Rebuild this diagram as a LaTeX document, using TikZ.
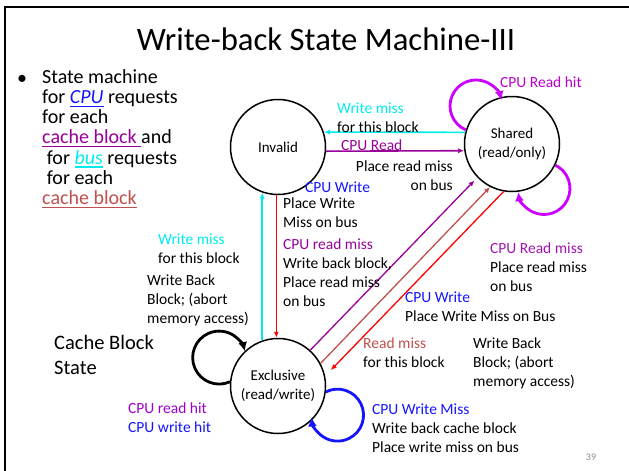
\documentclass[tikz,border=0pt]{standalone}
\usepackage{fontspec}
\setmainfont{Carlito}
\usetikzlibrary{arrows.meta}

% underline drawn in the current colour
\newcommand{\myul}[1]{\setbox0=\hbox{#1}\rlap{\rule[-3.4pt]{\wd0}{1.3pt}}\box0}

\definecolor{cyanc}{RGB}{0,235,235}
\definecolor{purp}{RGB}{153,0,153}
\definecolor{purpb}{RGB}{160,20,175}
\definecolor{purpc}{RGB}{153,0,204}
\definecolor{hitmag}{RGB}{187,0,204}
\definecolor{loopmag}{RGB}{204,0,255}
\definecolor{bluec}{RGB}{20,20,255}
\definecolor{brownred}{RGB}{192,80,77}
\definecolor{redc}{RGB}{255,0,0}
\definecolor{pagegray}{RGB}{140,140,140}

\begin{document}
\begin{tikzpicture}[x=1pt,y=1pt,
  stnode/.style={circle, draw, line width=1.5pt, minimum size=95pt, inner sep=0pt,
    align=center, font=\fontsize{15}{19}\selectfont},
  lbl/.style={anchor=west, align=left, inner sep=0pt, font=\fontsize{15.5}{19}\selectfont},
  thinarrow/.style={line width=1.6pt, -{Latex[length=6pt,width=5pt]}},
  diagarrow/.style={line width=1.3pt, -{Latex[length=6pt,width=5pt]}},
  selfloop/.style={line width=2.8pt, -{Latex[length=9pt,width=9pt]}}]
\useasboundingbox (0,0) rectangle (629,-471);

% slide frame
\draw[line width=2.5pt, line join=miter] (629,-7) -- (5,-7) -- (5,-471);

% title
\node[font=\fontsize{32.7}{38}\selectfont] (title) at (326,-39) {Write-back State Machine-III};

% bullet text
\node[font=\fontsize{20}{20}\selectfont, inner sep=0pt] (bullet) at (22,-80) {•};
\node[anchor=west, align=left, inner sep=0pt, font=\fontsize{20}{20.2}\selectfont] (intro) at (42,-138.7)
  {State machine\\
   for \textcolor{bluec}{\myul{\textit{CPU}}} requests\\
   for each\\
   \textcolor{purp}{\myul{cache block }}and\\
   \hspace*{0.23em}for \textcolor{cyanc}{\myul{\textit{bus}}} requests\\
   \hspace*{0.23em}for each\\
   \textcolor{brownred}{\myul{cache block}}};

\node[anchor=west, align=left, inner sep=0pt, font=\fontsize{20.5}{25}\selectfont] (cbs) at (54,-354.5)
  {Cache Block\\State};

% states
\node[stnode] (inv) at (278,-147) {Invalid};
\node[stnode] (sh) at (512,-144) {Shared\\(read/only)};
\node[stnode] (ex) at (278,-386) {Exclusive\\(read/write)};

% transitions between states
\draw[thinarrow, cyanc] (sh.166) -- (inv.18);
\draw[thinarrow, purp] (inv.-5) -- (sh.188);
\draw[thinarrow, cyanc] (ex.109) -- (inv.-109);
\draw[thinarrow, redc] (inv.-92) -- (ex.92);
\draw[diagarrow, purp, shorten >=4pt] (ex.48) -- (sh.224);
\draw[diagarrow, brownred] (ex.28) -- (sh.243);
\draw[diagarrow, redc, shorten >=8pt] (sh.260) -- (ex.12);

% self loops
\draw[selfloop, loopmag] (sh.163) arc[start angle=247, end angle=13, radius=26];
\draw[selfloop, loopmag] (sh.-26) arc[start angle=64, end angle=-172, radius=26];
\draw[selfloop, black] (ex.175) arc[start angle=-66, end angle=-346, radius=26.5];
\draw[selfloop, bluec] (ex.-7) arc[start angle=116.6, end angle=-175, radius=26];

% transition labels
\node[lbl] (wm1) at (337,-117.5) {\textcolor{cyanc}{Write miss}\\for this block};
\node[lbl] (cr1) at (341,-145) {\textcolor{purp}{CPU Read}};
\node[lbl, anchor=east, align=right] (prm1) at (453,-175.5) {Place read miss\\on bus};
\node[lbl] (cw1) at (305,-187) {\textcolor{bluec}{CPU Write}};
\node[lbl] (pwm1) at (283,-212.5) {Place Write\\Miss on bus};
\node[lbl] (crm1) at (283,-273) {\textcolor{purp}{CPU read miss}\\Write back block,\\Place read miss\\on bus};
\node[lbl] (wm2) at (158,-248.5) {\textcolor{cyanc}{Write miss}\\for this block};
\node[lbl] (wb1) at (147,-300) {Write Back\\Block; (abort\\memory access)};
\node[lbl] (crm2) at (490,-267) {\textcolor{purpb}{CPU Read miss}\\Place read miss\\on bus};
\node[lbl] (cw2) at (405,-307) {\textcolor{bluec}{CPU Write}\\Place Write Miss on Bus};
\node[lbl] (rm1) at (363,-352.5) {\textcolor{brownred}{Read miss}\\for this block};
\node[lbl] (wb2) at (473,-363) {Write Back\\Block; (abort\\memory access)};
\node[lbl] (hits) at (128,-417.5) {\textcolor{purpc}{CPU read hit}\\\textcolor{bluec}{CPU write hit}};
\node[lbl] (cwm) at (372,-428.5) {\textcolor{bluec}{CPU Write Miss}\\Write back cache block\\Place write miss on bus};
\node[lbl] (crh) at (500,-82) {\textcolor{hitmag}{CPU Read hit}};

% page number
\node[font=\fontsize{10}{12}\selectfont, text=pagegray] (pg) at (591,-457) {39};
\end{tikzpicture}
\end{document}
